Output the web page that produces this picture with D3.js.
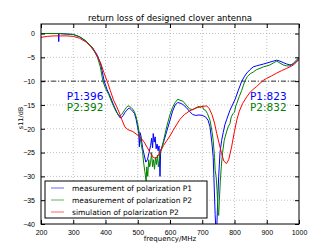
<!DOCTYPE html>
<html>
<head>
<meta charset="utf-8">
<script src="https://cdn.jsdelivr.net/npm/d3@7"></script>
<style>
  body { margin: 0; background: #fff; }
  svg { font-family: "DejaVu Sans", sans-serif; }
</style>
</head>
<body>
<div id="chart"></div>
<script>
// measured P1 (blue)
const p1Freq = [200,220,240,250,254,255,256,260,280,300,320,340,360,375,385,396,405,415,425,435,445,450,455,460,465,470,475,480,485,490,495,500,503,505,507,510,515,520,525,530,535,540,543,546,548,551,554,557,560,563,566,569,571,575,580,590,600,608,616,624,631,640,650,660,670,680,690,700,710,718,724,730,734,737,740,742,745,748,751,755,760,765,770,776,786,795,802,812,822,830,838,848,858,868,879,890,900,910,920,931,941,951,962,972,982,993,1000];
const p1Val = [0,0,0,0,0,-1.7,0,0,-0.1,-0.2,-0.7,-1.6,-3.0,-4.6,-6.4,-10,-11.8,-13.3,-15,-16.5,-17.7,-17.6,-17.2,-16.6,-16.2,-15.8,-15.7,-16,-16.4,-16.8,-18,-19.8,-21,-23.8,-20.8,-21.5,-24,-25.5,-27,-26.5,-25,-23.5,-22,-24,-21,-22.8,-21.7,-24.2,-23.2,-24.6,-23.6,-30,-24.9,-23.8,-22.8,-20.5,-18.2,-16.3,-15,-14.5,-14.6,-14.9,-15.5,-16.3,-17,-17.2,-17.1,-17.2,-17.5,-18.2,-19.6,-23,-26,-32,-38,-41,-41,-35,-30,-25,-22.5,-20.8,-19.2,-18,-16.1,-14.8,-13.8,-11.9,-10.1,-9.1,-8.3,-7.6,-7,-6.8,-6.6,-6.4,-6.2,-6,-5.8,-5.6,-5.8,-6.1,-6.4,-6.6,-6.4,-5.8,-5.2];

// measured P2 (green)
const p2Freq = [200,250,300,320,340,360,375,384,392,400,410,420,430,440,445,450,455,460,465,470,475,480,485,490,495,500,505,510,515,518,522,526,528,531,534,537,540,543,546,549,552,555,558,561,564,567,570,575,580,590,600,608,616,624,631,640,650,660,670,680,690,695,700,705,710,716,724,730,734,738,740,743,746,749,751,753,756,759,763,768,771,776,781,786,790,796,800,804,807,815,822,827,832,840,850,858,868,879,890,900,910,920,931,941,951,962,972,982,993,1000];
const p2Val = [0,0,-0.2,-0.7,-1.6,-3.0,-5,-7,-10,-11.5,-12.8,-14.5,-16,-17.2,-17.3,-17,-16.5,-16,-15.5,-15.2,-15.3,-15.6,-15.9,-16.5,-17.5,-19,-21,-23,-24.8,-27,-29,-31,-28,-30,-26.5,-28,-27,-25,-28,-26.5,-28.5,-26,-27.5,-25.5,-28,-26.5,-24.5,-24,-22.5,-19.5,-17,-15.5,-14.5,-13.8,-14,-14.2,-15,-15.8,-16,-15.6,-15.3,-15.6,-15.2,-16,-16.1,-16.8,-18.2,-20.5,-22.4,-26,-28.7,-30,-33,-37.5,-38.2,-35,-31,-28,-25,-22.5,-21.7,-20.5,-19.5,-18.9,-17.5,-16.8,-16.5,-15.2,-14.7,-13.2,-12,-11,-10,-9,-8.4,-8.1,-7.6,-7.3,-7,-6.8,-6.6,-6.2,-5.8,-6.2,-6.6,-6.8,-6.8,-6.3,-5.5,-5];

// simulated P2 (red)
const simFreq = [200,220,240,260,280,300,320,340,355,370,385,395,405,415,425,435,445,450,460,470,485,507,520,530,540,548,555,562,570,580,590,600,610,620,631,645,662,683,700,714,722,730,738,745,752,760,767,775,782,791,800,807,815,825,838,850,860,869,880,890,900,915,931,946,962,975,985,993,1000];
const simVal = [-0.8,-0.6,-0.5,-0.5,-0.5,-0.6,-1.0,-1.8,-2.8,-4.2,-6.2,-8.2,-10,-12,-14,-15.4,-17,-18,-19.6,-20.2,-20.6,-21.7,-22.8,-24,-25.2,-26,-26.2,-25.8,-24.8,-23.5,-22.5,-21.5,-20.3,-19.2,-18,-17,-16.2,-15.6,-15.3,-15.2,-15.8,-17,-18.8,-21,-23,-25.2,-26.8,-27.3,-26.5,-23.8,-20.5,-18.2,-16.3,-14.7,-13.3,-12.2,-11.6,-11.1,-10.4,-9.8,-9.4,-8.9,-8.3,-7.8,-7.3,-6.9,-6.5,-5.9,-5.5];

const xTicks = [200,300,400,500,600,700,800,900,1000];
const yTicks = [0,-5,-10,-15,-20,-25,-30,-35,-40];
const seriesNames = ["measurement of polarization P1","measurement of polarization P2","simulation of polarization P2"];
const seriesColors = ["#0000ff","#008000","#ff0000"];
const threshold = -10;
const notes = [
  {f: 280, v: -14.0, text: "P1:396", color: "#0000ff"},
  {f: 280, v: -16.2, text: "P2:392", color: "#008000"},
  {f: 848, v: -14.0, text: "P1:823", color: "#0000ff"},
  {f: 848, v: -16.2, text: "P2:832", color: "#008000"}
];

const width = 332, height = 249;
const margin = {left: 41, right: 33, top: 24, bottom: 25};

const svg = d3.select("#chart").append("svg")
  .attr("width", width).attr("height", height);

const x = d3.scaleLinear().domain([200, 1000]).range([margin.left, width - margin.right]);
const y = d3.scaleLinear().domain([-40, 2]).range([height - margin.bottom, margin.top]);

svg.append("clipPath").attr("id", "plot")
  .append("rect")
  .attr("x", x(200)).attr("y", y(2))
  .attr("width", x(1000) - x(200)).attr("height", y(-40) - y(2));

// grid
const grid = svg.append("g").attr("stroke", "#999").attr("stroke-width", 0.6).attr("stroke-dasharray", "1,2");
grid.selectAll(".gx").data(xTicks.slice(1, -1)).join("line")
  .attr("x1", d => x(d)).attr("x2", d => x(d))
  .attr("y1", y(2)).attr("y2", y(-40));
grid.selectAll(".gy").data(yTicks.slice(0, -1)).join("line")
  .attr("x1", x(200)).attr("x2", x(1000))
  .attr("y1", d => y(d)).attr("y2", d => y(d));

// threshold line
svg.append("line")
  .attr("x1", x(200)).attr("x2", x(1000))
  .attr("y1", y(threshold)).attr("y2", y(threshold))
  .attr("stroke", "#000").attr("stroke-width", 0.8)
  .attr("stroke-dasharray", "5,2,1,2");

// curves
const series = [
  {f: p1Freq, v: p1Val},
  {f: p2Freq, v: p2Val},
  {f: simFreq, v: simVal}
];
const line = d3.line().x(d => x(d[0])).y(d => y(d[1]));
const curves = svg.append("g").attr("clip-path", "url(#plot)");
series.forEach((s, i) => {
  curves.append("path")
    .datum(s.f.map((f, j) => [f, s.v[j]]))
    .attr("fill", "none")
    .attr("stroke", seriesColors[i])
    .attr("stroke-width", 1)
    .attr("d", line);
});

// frame
svg.append("rect")
  .attr("x", x(200)).attr("y", y(2))
  .attr("width", x(1000) - x(200)).attr("height", y(-40) - y(2))
  .attr("fill", "none").attr("stroke", "#000").attr("stroke-width", 1);

// axes
const xAxis = d3.axisBottom(x).tickValues(xTicks).tickSize(-4).tickPadding(6).tickFormat(d3.format("d"));
svg.append("g")
  .attr("transform", "translate(0," + y(-40) + ")")
  .call(xAxis)
  .call(g => g.select(".domain").remove())
  .selectAll("text").attr("font-size", 7).attr("fill", "#000");
svg.append("g")
  .attr("transform", "translate(0," + y(2) + ")")
  .call(d3.axisTop(x).tickValues(xTicks).tickSize(-4).tickFormat(""))
  .call(g => g.select(".domain").remove());

const yAxis = d3.axisLeft(y).tickValues(yTicks).tickSize(-4).tickPadding(6)
  .tickFormat(d => d < 0 ? "\u2212" + Math.abs(d) : d);
svg.append("g")
  .attr("transform", "translate(" + x(200) + ",0)")
  .call(yAxis)
  .call(g => g.select(".domain").remove())
  .selectAll("text").attr("font-size", 7).attr("fill", "#000");
svg.append("g")
  .attr("transform", "translate(" + x(1000) + ",0)")
  .call(d3.axisRight(y).tickValues(yTicks).tickSize(-4).tickFormat(""))
  .call(g => g.select(".domain").remove());

// labels
svg.append("text")
  .attr("x", (x(200) + x(1000)) / 2).attr("y", 21)
  .attr("text-anchor", "middle").attr("font-size", 8.5)
  .text("return loss of designed clover antenna");
svg.append("text")
  .attr("x", (x(200) + x(1000)) / 2).attr("y", 241)
  .attr("text-anchor", "middle").attr("font-size", 7)
  .text("frequency/MHz");
svg.append("text")
  .attr("transform", "translate(23,118) rotate(-90)")
  .attr("text-anchor", "middle").attr("font-size", 6.5)
  .text("s11/dB");

// annotations
svg.selectAll(".note").data(notes).join("text")
  .attr("x", d => x(d.f)).attr("y", d => y(d.v))
  .attr("font-size", 10.5).attr("fill", d => d.color)
  .text(d => d.text);

// legend
const legend = svg.append("g");
legend.append("rect")
  .attr("x", 45).attr("y", 181).attr("width", 162).attr("height", 37)
  .attr("fill", "#fff").attr("stroke", "#000").attr("stroke-width", 1);
seriesNames.forEach((name, i) => {
  const ly = 188 + i * 12;
  legend.append("line")
    .attr("x1", 51).attr("x2", 64).attr("y1", ly).attr("y2", ly)
    .attr("stroke", seriesColors[i]).attr("stroke-opacity", 0.6).attr("stroke-width", 1);
  legend.append("text")
    .attr("x", 72).attr("y", ly + 2.6)
    .attr("font-size", 7.5)
    .text(name);
});
</script>
</body>
</html>
